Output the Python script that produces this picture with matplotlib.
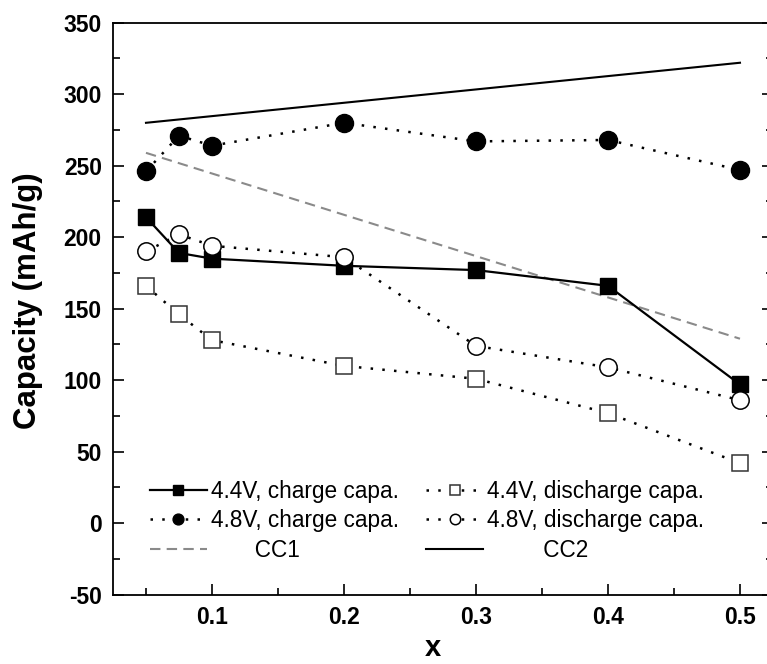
import matplotlib
matplotlib.use("Agg")
import matplotlib.pyplot as plt
from matplotlib import font_manager

names = {f.name for f in font_manager.fontManager.ttflist}
FONT = "Liberation Sans" if "Liberation Sans" in names else "DejaVu Sans"
plt.rcParams['font.family'] = [FONT, 'DejaVu Sans']

# ---- data ----
x = [0.05, 0.075, 0.1, 0.2, 0.3, 0.4, 0.5]
charge_44 = [214, 189, 185, 180, 177, 166, 97]
discharge_44 = [166, 146, 128, 110, 101, 77, 42]
charge_48 = [246, 271, 264, 280, 267, 268, 247]
discharge_48 = [190, 202, 194, 186, 124, 109, 86]
cc_x = [0.05, 0.5]
cc1 = [259, 129]
cc2 = [280, 322]

xticks = [0.1, 0.2, 0.3, 0.4, 0.5]
xticklabels = ["0.1", "0.2", "0.3", "0.4", "0.5"]
yticks = [-50, 0, 50, 100, 150, 200, 250, 300, 350]
yticklabels = ["-50", "0", "50", "100", "150", "200", "250", "300", "350"]

labels = ["4.4V, charge capa.", "4.4V, discharge capa.",
          "4.8V, charge capa.", "4.8V, discharge capa.",
          "CC1", "CC2"]

fig = plt.figure(figsize=(7.67, 6.64), dpi=100)
ax = fig.add_axes([0.1473, 0.1044, 0.8605, 0.8614])

dot = (0, (1, 3.7))
l1, = ax.plot(x, charge_44, color='black', lw=1.6, ls='-', marker='s',
              ms=11.5, mfc='black', mec='black', zorder=3)
l2, = ax.plot(x, discharge_44, color='black', lw=1.8, ls=dot, marker='s',
              ms=11.5, mfc='white', mec='#333333', mew=1.1, zorder=3)
l3, = ax.plot(x, charge_48, color='black', lw=1.8, ls=dot, marker='o',
              ms=13, mfc='black', mec='black', zorder=3)
l4, = ax.plot(x, discharge_48, color='black', lw=1.8, ls=dot, marker='o',
              ms=12.5, mfc='white', mec='black', mew=1.1, zorder=4)
l5, = ax.plot(cc_x, cc1, color='#8a8a8a', lw=1.5, ls=(0, (5, 3)), zorder=2)
l6, = ax.plot(cc_x, cc2, color='black', lw=1.5, ls='-', zorder=2)

ax.set_xlim(0.025, 0.525)
ax.set_ylim(-50, 350)
ax.set_xticks(xticks)
ax.set_xticklabels(xticklabels)
ax.set_xticks([0.05, 0.15, 0.25, 0.35, 0.45], minor=True)
ax.set_yticks(yticks)
ax.set_yticklabels(yticklabels)
ax.set_yticks([-25, 25, 75, 125, 175, 225, 275, 325], minor=True)

ax.tick_params(which='both', direction='in', top=False, right=True, width=1.2)
ax.tick_params(which='major', length=8, pad=8, labelsize=16.5)
ax.tick_params(which='minor', length=4.8)
for lab in ax.get_xticklabels() + ax.get_yticklabels():
    lab.set_fontweight('bold')
for s in ax.spines.values():
    s.set_linewidth(1.3)

fig.text(28 / 767, 1 - 301 / 664, "Capacity (mAh/g)", rotation=90,
         ha='center', va='center', fontsize=22.5, fontweight='bold')
fig.text(433 / 767, 1 - 662 / 664, "x", ha='center', va='bottom',
         fontsize=21, fontweight='bold')

handles = [l1, l3, l5, l2, l4, l6]
leg_labels = [labels[0], labels[2], "       " + labels[4],
              labels[1], labels[3], "         " + labels[5]]
ax.legend(handles, leg_labels, ncol=2, frameon=False, loc='lower left',
          bbox_to_anchor=(0.056, 0.058), borderaxespad=0, borderpad=0,
          fontsize=16.3, handlelength=2.5, handletextpad=0.2,
          columnspacing=1.2, labelspacing=0.28, markerscale=0.6)

fig.savefig("out.png", dpi=100)
